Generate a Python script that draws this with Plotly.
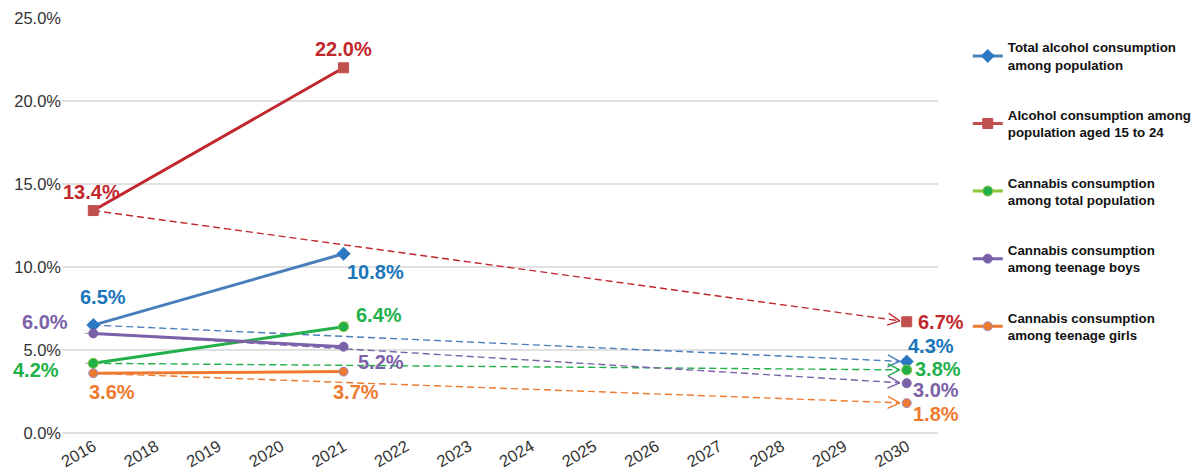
import math
import plotly.graph_objects as go

# ---------------- data ----------------
years = ["2016", "2018", "2019", "2020", "2021", "2022", "2023", "2024",
         "2025", "2026", "2027", "2028", "2029", "2030"]
series_names = [
    "Total alcohol consumption<br>among population",
    "Alcohol consumption among<br>population aged 15 to 24",
    "Cannabis consumption<br>among total population",
    "Cannabis consumption<br>among teenage boys",
    "Cannabis consumption<br>among teenage girls",
]
actual_years = ["2016", "2021"]
total_alcohol = [6.5, 10.8]
alcohol_15_24 = [13.4, 22.0]
cannabis_total = [4.2, 6.4]
cannabis_boys = [6.0, 5.2]
cannabis_girls = [3.6, 3.7]
target_year = "2030"
targets = [4.3, 6.7, 3.8, 3.0, 1.8]
y_ticks = [0, 5, 10, 15, 20, 25]

actuals = [total_alcohol, alcohol_15_24, cannabis_total, cannabis_boys, cannabis_girls]

# ---------------- styles ----------------
line_colors = ["#4a7ebb", "#c1272d", "#22b04b", "#7b62a8", "#ee7a30"]
legend_line_colors = ["#4a7ebb", "#c0504d", "#8cc63f", "#7b62a8", "#ee7a30"]
marker_colors = ["#2a78c2", "#c0504d", "#22b04b", "#7b62a8", "#ee7a30"]
marker_line_colors = ["#2a78c2", "#c0504d", "#8cc63f", "#7b62a8", "#9a8cc0"]
label_colors = ["#1b75bb", "#c1272d", "#22b04b", "#7b62a8", "#ee7a30"]
symbols = ["diamond", "square", "circle", "circle", "circle"]
msizes = [10, 10, 10, 9, 9]
# label offsets (px) for [2016, 2021, 2030]
label_offsets = [
    [(10, 28), (32, -18), (24, 16)],
    [(-2, 19), (0, 19), (34, 0)],
    [(-57, -7), (35, 12), (31, 1)],
    [(-48, 11), (37, -15), (29, -7)],
    [(19, -19), (12, -20), (29, -11)],
]

# plot geometry (for chevron drawing)
ML, MR, MT, MB = 62, 260, 18, 38
W, H = 1198, 471
pw, ph = W - ML - MR, H - MT - MB
xr = (-0.5, len(years) - 0.5)
yr = (0, 25)
px_x = pw / (xr[1] - xr[0])
px_y = ph / (yr[1] - yr[0])

FONT = "Liberation Sans, Arial, sans-serif"

fig = go.Figure()

xi = lambda yv: years.index(yv)

for i, name in enumerate(series_names):
    xs = [xi(y) for y in actual_years]
    ys = actuals[i]
    xt = xi(target_year)
    yt = targets[i]
    # dashed projection from first actual to target, ending at chevron tip
    x0, y0 = xs[0], ys[0]
    dxp = (xt - x0) * px_x
    dyp = (yt - y0) * px_y
    L = math.hypot(dxp, dyp)
    ux, uy = dxp / L, dyp / L
    gap = 7
    tipx_p = dxp - ux * gap
    tipy_p = dyp - uy * gap
    tipx = x0 + tipx_p / px_x
    tipy = y0 + tipy_p / px_y
    fig.add_trace(go.Scatter(
        x=[x0, tipx], y=[y0, tipy], mode="lines",
        line=dict(color=line_colors[i], width=1.4, dash="7px,4px"),
        showlegend=False, hoverinfo="skip"))
    # chevron
    back, half = 12, 6
    pts = []
    for s in (1, -1):
        bx = tipx_p - ux * back + (-uy) * half * s
        by = tipy_p - uy * back + (ux) * half * s
        pts.append((x0 + bx / px_x, y0 + by / px_y))
    fig.add_trace(go.Scatter(
        x=[pts[0][0], tipx, pts[1][0]], y=[pts[0][1], tipy, pts[1][1]],
        mode="lines", line=dict(color=line_colors[i], width=1.4),
        showlegend=False, hoverinfo="skip"))
    # solid actual line
    fig.add_trace(go.Scatter(
        x=xs, y=ys, mode="lines+markers",
        line=dict(color=line_colors[i], width=3),
        marker=dict(symbol=symbols[i], size=msizes[i], color=marker_colors[i],
                    line=dict(color=marker_line_colors[i], width=1)),
        showlegend=False, hoverinfo="skip"))
    # target marker
    fig.add_trace(go.Scatter(
        x=[xt], y=[yt], mode="markers",
        marker=dict(symbol=symbols[i], size=msizes[i], color=marker_colors[i],
                    line=dict(color=marker_line_colors[i], width=1)),
        showlegend=False, hoverinfo="skip"))
    # legend-only trace
    fig.add_trace(go.Scatter(
        x=[None], y=[None], mode="lines+markers", name=name,
        legendgroup=str(i),
        line=dict(color=legend_line_colors[i], width=3),
        marker=dict(symbol=symbols[i], size=msizes[i], color=marker_colors[i],
                    line=dict(color=marker_line_colors[i], width=1))))
    # labels
    pts_all = list(zip(xs, ys)) + [(xt, yt)]
    for (px, py), (ox, oy) in zip(pts_all, label_offsets[i]):
        fig.add_annotation(x=px, y=py, text=f"<b>{py:.1f}%</b>", showarrow=False,
                           xshift=ox, yshift=oy,
                           font=dict(family=FONT, size=20, color=label_colors[i]))

# small grey leader lines
leaders = [(0, total_alcohol[0], -6, -6), (0, cannabis_boys[0], -10, 0),
           (0, cannabis_total[0], -9, 0), (4, cannabis_total[1], 6, -7),
           (0, alcohol_15_24[0], -4, -5)]
for lx, ly, ax, ay in leaders:
    fig.add_annotation(x=lx, y=ly, text="", showarrow=True, arrowhead=0,
                       arrowwidth=1, arrowcolor="#999999", ax=ax, ay=ay,
                       standoff=5)

fig.update_layout(
    width=W, height=H,
    margin=dict(l=ML, r=MR, t=MT, b=MB, autoexpand=False),
    plot_bgcolor="white", paper_bgcolor="white",
    font=dict(family=FONT, color="#333333"),
    legend=dict(x=1.034, y=0.966, xanchor="left", yanchor="top",
                tracegroupgap=30, itemwidth=30,
                font=dict(family=FONT, size=13.3, color="#111111", weight="bold")),
    xaxis=dict(range=list(xr), tickmode="array", automargin=False,
               tickvals=list(range(len(years))), ticktext=years,
               tickangle=-30, showgrid=False, zeroline=False, showline=False,
               tickfont=dict(size=16.5, color="#333333")),
    yaxis=dict(range=list(yr), tickvals=y_ticks, automargin=False,
               ticktext=[f"{v:.1f}%" for v in y_ticks],
               showgrid=True, gridcolor="#e0e0e0", gridwidth=1.5,
               zeroline=True, zerolinecolor="#e0e0e0", zerolinewidth=1.5,
               tickfont=dict(size=16.5, color="#333333")),
    showlegend=True,
)

fig.write_html("out.html", config={"displayModeBar": False},
               post_script="document.body.style.margin='0';document.body.style.overflow='hidden';")
